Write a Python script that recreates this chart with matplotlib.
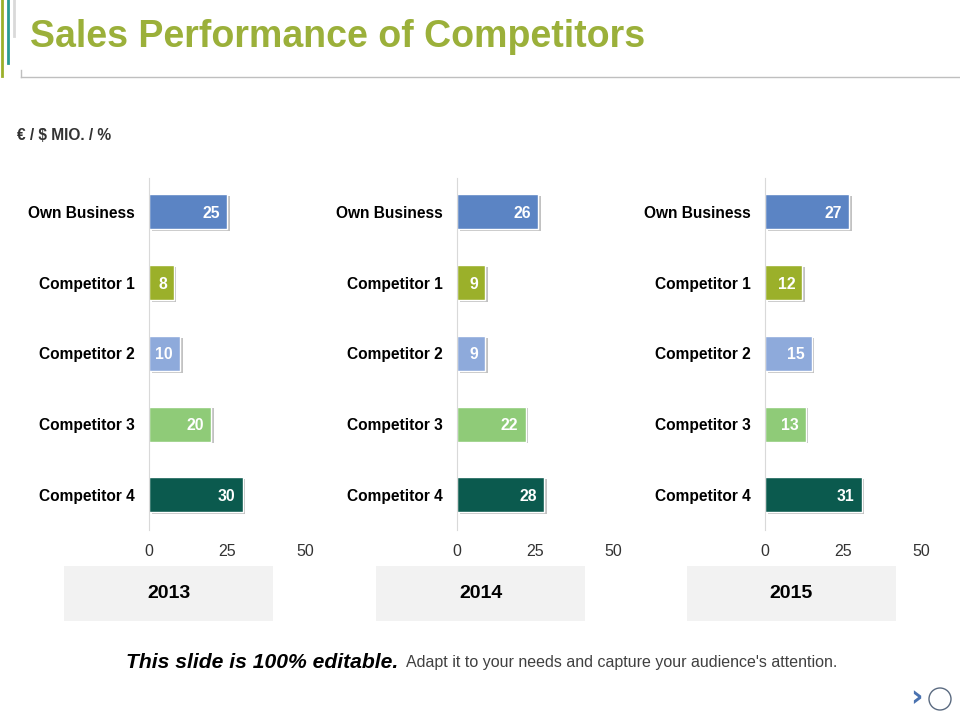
import matplotlib
matplotlib.use("Agg")
import matplotlib.pyplot as plt
import matplotlib.patheffects as pe
from matplotlib.patches import Rectangle, Ellipse
from matplotlib.lines import Line2D

plt.rcParams['font.family'] = ['Liberation Sans', 'DejaVu Sans']

categories = ["Own Business", "Competitor 1", "Competitor 2", "Competitor 3", "Competitor 4"]
years = ["2013", "2014", "2015"]
values_2013 = [25, 8, 10, 20, 30]
values_2014 = [26, 9, 9, 22, 28]
values_2015 = [27, 12, 15, 13, 31]
x_ticks = [0, 25, 50]
bar_colors = ["#5b84c4", "#9bb02a", "#8eaadb", "#8fcb78", "#0b5a4e"]

W, H = 960, 720
fig = plt.figure(figsize=(9.6, 7.2), dpi=100)


def fx(px):
    return px / W


def fy(py):
    return 1 - py / H


# header accents
fig.add_artist(Line2D([fx(1.5), fx(1.5)], [fy(0), fy(76)], color="#9bb02a", lw=2))
fig.add_artist(Line2D([fx(7.5), fx(7.5)], [fy(0), fy(63)], color="#2a9a93", lw=2))
fig.add_artist(Line2D([fx(14), fx(14)], [fy(0), fy(36)], color="#d9d9d9", lw=2))
fig.add_artist(Line2D([fx(21), fx(960)], [fy(77), fy(77)], color="#bfbfbf", lw=1))
fig.add_artist(Line2D([fx(21), fx(21)], [fy(70), fy(77)], color="#bfbfbf", lw=1))

fig.text(fx(30), fy(37), "Sales Performance of Competitors", fontsize=27,
         fontweight="bold", color="#9bb03a", va="center", ha="left")
fig.text(fx(17), fy(135), "€ / $ MIO. / %", fontsize=11.2, fontweight="bold",
         color="#333333", va="center", ha="left")

panel_left = [149, 457, 765]
box_left = [64, 376, 687]
all_values = [values_2013, values_2014, values_2015]

for i, (year, vals) in enumerate(zip(years, all_values)):
    ax = fig.add_axes([fx(panel_left[i]), fy(530), (305 - 149) / W, (530 - 178) / H])
    pos = list(range(len(categories)))
    bars = ax.barh(pos, vals, height=0.495, color=bar_colors, edgecolor="white", lw=1)
    for b in bars:
        b.set_path_effects([pe.SimplePatchShadow(offset=(1.8, -1.2), shadow_rgbFace="#9a9a9a", alpha=0.6),
                            pe.Normal()])
    for p, v in zip(pos, vals):
        ax.text(v - 2.3, p, str(v), color="white", fontsize=11.3, fontweight="bold",
                ha="right", va="center_baseline")
    ax.set_xlim(0, 50)
    ax.set_ylim(4.495, -0.48)
    ax.set_yticks(pos)
    ax.set_yticklabels(categories, fontsize=11.2, fontweight="bold", color="black")
    ax.set_xticks(x_ticks)
    ax.set_xticklabels([str(t) for t in x_ticks], fontsize=11.5, color="#333333")
    ax.tick_params(length=0, pad=10.5)
    ax.tick_params(axis="x", pad=10)
    for s in ["top", "right", "bottom"]:
        ax.spines[s].set_visible(False)
    ax.spines["left"].set_color("#d9d9d9")
    ax.set_facecolor("none")

    fig.add_artist(Rectangle((fx(box_left[i]), fy(621)), 209 / W, 55 / H,
                             transform=fig.transFigure, facecolor="#f2f2f2", edgecolor="none"))
    fig.text(fx(box_left[i] + 104.5), fy(593), year, fontsize=14, fontweight="bold",
             ha="center", va="center", color="black")

fig.text(fx(126), fy(662), "This slide is 100% editable.", fontsize=15.2,
         fontweight="bold", fontstyle="italic", ha="left", va="center", color="black")
fig.text(fx(406), fy(663), "Adapt it to your needs and capture your audience's attention.",
         fontsize=11.5, ha="left", va="center", color="#404040")

# navigation icons
fig.text(fx(916), fy(698), "›", fontsize=22, fontweight="bold", color="#4a72b0",
         ha="center", va="center", family="DejaVu Sans")
fig.add_artist(Ellipse((fx(940), fy(699)), 22 / W, 22 / H, transform=fig.transFigure,
                       facecolor="none", edgecolor="#5a6a80", lw=1))

fig.savefig("out.png", dpi=100)
